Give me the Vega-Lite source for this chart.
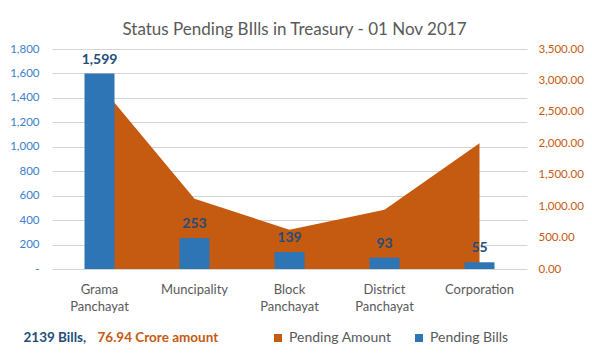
{
  "$schema": "https://vega.github.io/schema/vega-lite/v6.json",
  "width": 475,
  "height": 220,
  "autosize": {"type": "none"},
  "padding": {"left": 52, "top": 49, "right": 65, "bottom": 91},
  "background": "white",
  "config": {"view": {"stroke": null}, "font": "Lato"},
  "title": {"text": "Status Pending BIlls in Treasury - 01 Nov 2017", "fontSize": 17, "font": "Lato", "fontWeight": "normal", "color": "#595959", "offset": 13, "dx": 5, "dy": 9},
  "data": {"values": [
    {"category": "Grama Panchayat", "bills": 1599, "amount": 2930},
    {"category": "Muncipality", "bills": 253, "amount": 1117},
    {"category": "Block Panchayat", "bills": 139, "amount": 624},
    {"category": "District Panchayat", "bills": 93, "amount": 942},
    {"category": "Corporation", "bills": 55, "amount": 2002}
  ]},
  "encoding": {
    "x": {"field": "category", "type": "nominal", "sort": null,
      "scale": {"paddingInner": 0, "paddingOuter": 0},
      "axis": {"title": null, "labelExpr": "split(datum.label, ' ')", "labelFontSize": 13, "labelColor": "#595959", "ticks": false, "domain": false, "labelPadding": 14, "labelAngle": 0, "labelLineHeight": 17, "grid": false, "labelFont": "Lato"}}
  },
  "layer": [
    {
      "mark": {"type": "area", "color": "#C55A11", "opacity": 1},
      "encoding": {
        "y": {"field": "amount", "type": "quantitative", "scale": {"domain": [0, 3500], "nice": false},
          "axis": {"orient": "right", "values": [0, 500, 1000, 1500, 2000, 2500, 3000, 3500], "format": ",.2f", "labelColor": "#C55A11", "labelFontSize": 11.5, "labelOverlap": false, "labelFlush": false, "grid": false, "ticks": false, "domain": false, "labelPadding": 11,
            "title": "76.94 Crore amount", "titleAngle": 0, "titleX": -430, "titleY": 292, "titleAlign": "left", "titleBaseline": "alphabetic", "titleFontSize": 13.5, "titleFontWeight": "bold", "titleColor": "#C55A11", "titleFont": "Lato"}},
        "color": {"datum": "Pending Amount", "type": "nominal",
          "scale": {"domain": ["Pending Amount", "Pending Bills"], "range": ["#C55A11", "#2E75B6"]},
          "legend": {"orient": "none", "legendX": 219, "legendY": 282, "direction": "horizontal", "title": null, "symbolType": "square", "symbolSize": 64, "symbolStrokeWidth": 0, "labelFontSize": 14, "labelColor": "#595959", "labelOffset": 4, "columnPadding": 20, "labelFont": "Lato"}}
      }
    },
    {
      "encoding": {
        "y": {"field": "bills", "type": "quantitative", "scale": {"domain": [0, 1800], "nice": false},
          "axis": {"orient": "left", "values": [0, 200, 400, 600, 800, 1000, 1200, 1400, 1600, 1800], "labelExpr": "datum.value == 0 ? '-' : format(datum.value, ',')", "labelColor": "#3A80CC", "labelFontSize": 11.5, "labelOverlap": false, "labelFlush": false, "grid": true, "gridColor": "#D4D4D4", "gridWidth": 1, "ticks": false, "domain": false, "labelPadding": 13,
            "title": "2139 Bills,", "titleAngle": 0, "titleX": -29, "titleY": 292, "titleAlign": "left", "titleBaseline": "alphabetic", "titleFontSize": 13.5, "titleFontWeight": "bold", "titleColor": "#1F4E79", "titleFont": "Lato"}}
      },
      "layer": [
        {
          "mark": {"type": "bar", "width": 30, "color": "#2E75B6"},
          "encoding": {
            "color": {"datum": "Pending Bills", "type": "nominal"}
          }
        },
        {
          "mark": {"type": "text", "dy": -10, "baseline": "alphabetic", "fontSize": 14, "fontWeight": "bold", "color": "#1F4E79", "font": "Lato"},
          "encoding": {
            "text": {"field": "bills", "type": "quantitative", "format": ","}
          }
        }
      ]
    }
  ],
  "resolve": {"scale": {"y": "independent"}}
}
